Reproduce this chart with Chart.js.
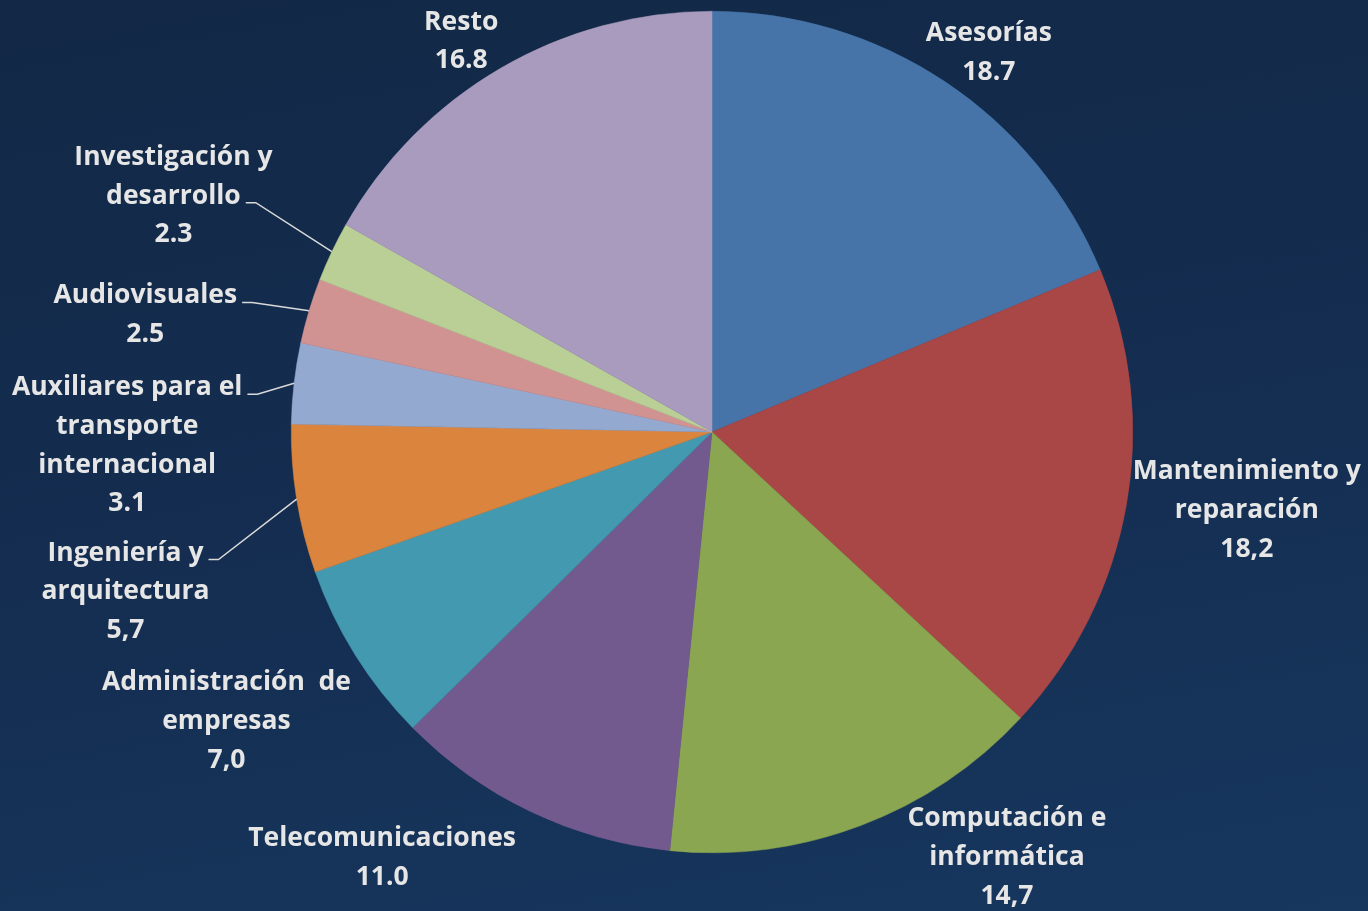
<!DOCTYPE html>
<html>
<head>
<meta charset="utf-8">
<script src="https://cdn.jsdelivr.net/npm/chart.js@4"></script>
<style>
  html, body { margin: 0; padding: 0; }
  body {
    width: 1368px; height: 911px; overflow: hidden;
    background: linear-gradient(170deg, #122846 0%, #142d50 50%, #17375f 100%);
  }
  #wrap { position: relative; width: 1368px; height: 911px; }
</style>
</head>
<body>
<div id="wrap"><canvas id="myChart"></canvas></div>
<script>
// Datos
var categorias = [
  ['Asesorías'],
  ['Mantenimiento y', 'reparación'],
  ['Computación e', 'informática'],
  ['Telecomunicaciones'],
  ['Administración  de', 'empresas'],
  ['Ingeniería y', 'arquitectura'],
  ['Auxiliares para el', 'transporte', 'internacional'],
  ['Audiovisuales'],
  ['Investigación y', 'desarrollo'],
  ['Resto']
];
var valores = [18.7, 18.2, 14.7, 11.0, 7.0, 5.7, 3.1, 2.5, 2.3, 16.8];
var textoValores = ['18.7', '18,2', '14,7', '11.0', '7,0', '5,7', '3.1', '2.5', '2.3', '16.8'];
var colores = ['#4674a8', '#a94646', '#8ba650', '#725a8f', '#4299b0',
               '#db843d', '#93a9d0', '#d09392', '#bacf95', '#a99bbd'];

// Posicion de las etiquetas (centro del bloque, en radios desde el centro del pie)
var posEtiquetas = [
  [0.658, -0.904], [1.271, 0.183], [0.701, 1.008], [-0.784, 1.008], [-1.154, 0.684],
  [-1.394, 0.376], [-1.390, 0.029], [-1.347, -0.281], [-1.280, -0.564], [-0.596, -0.932]
];
// linea guia: indice de la linea de texto donde se conecta (-1 = sin linea)
var lineaGuia = [-1, -1, -1, -1, -1, 0, 0, 0, 1, -1];

var etiquetasPlugin = {
  id: 'etiquetas',
  afterDatasetsDraw: function(chart) {
    var ctx = chart.ctx;
    var arcs = chart.getDatasetMeta(0).data;
    var lh = 38.7;
    ctx.save();
    ctx.font = 'bold 26.5px "Open Sans"';
    ctx.fillStyle = '#e6e6e6';
    ctx.strokeStyle = '#d9d9d9';
    ctx.lineWidth = 1.5;
    ctx.textAlign = 'center';
    ctx.textBaseline = 'middle';
    arcs.forEach(function(arc, i) {
      var r = arc.outerRadius;
      var cx = arc.x + posEtiquetas[i][0] * r;
      var cy = arc.y + posEtiquetas[i][1] * r;
      var lineas = categorias[i].concat([textoValores[i]]);
      var y0 = cy - (lineas.length - 1) * lh / 2;
      lineas.forEach(function(t, k) {
        ctx.fillText(t, cx, y0 + k * lh + 1.5);
      });
      var k = lineaGuia[i];
      if (k >= 0) {
        var w = ctx.measureText(lineas[k]).width;
        var sx = cx + w / 2 + 5;
        var sy = y0 + k * lh + 8;
        var mid = (arc.startAngle + arc.endAngle) / 2;
        var ex = arc.x + Math.cos(mid) * r;
        var ey = arc.y + Math.sin(mid) * r;
        ctx.beginPath();
        ctx.moveTo(sx, sy);
        ctx.lineTo(sx + 10, sy);
        ctx.lineTo(ex, ey);
        ctx.stroke();
      }
    });
    ctx.restore();
  }
};

function dibujar() {
  var ctx = document.getElementById('myChart').getContext('2d');
  new Chart(ctx, {
    type: 'pie',
    data: {
      labels: categorias.map(function(c) { return c.join(' '); }),
      datasets: [{
        data: valores,
        backgroundColor: colores,
        borderColor: colores,
        borderWidth: 0.5
      }]
    },
    options: {
      responsive: false,
      animation: false,
      layout: { padding: { top: 11, bottom: 58, left: 56, right: 0 } },
      plugins: {
        legend: { display: false },
        tooltip: { enabled: false }
      }
    },
    plugins: [etiquetasPlugin]
  });
}

var cv = document.getElementById('myChart');
cv.width = 1368; cv.height = 911;
if (document.fonts && document.fonts.load) {
  document.fonts.load('bold 26.5px "Open Sans"').then(dibujar, dibujar);
} else {
  dibujar();
}
</script>
</body>
</html>
